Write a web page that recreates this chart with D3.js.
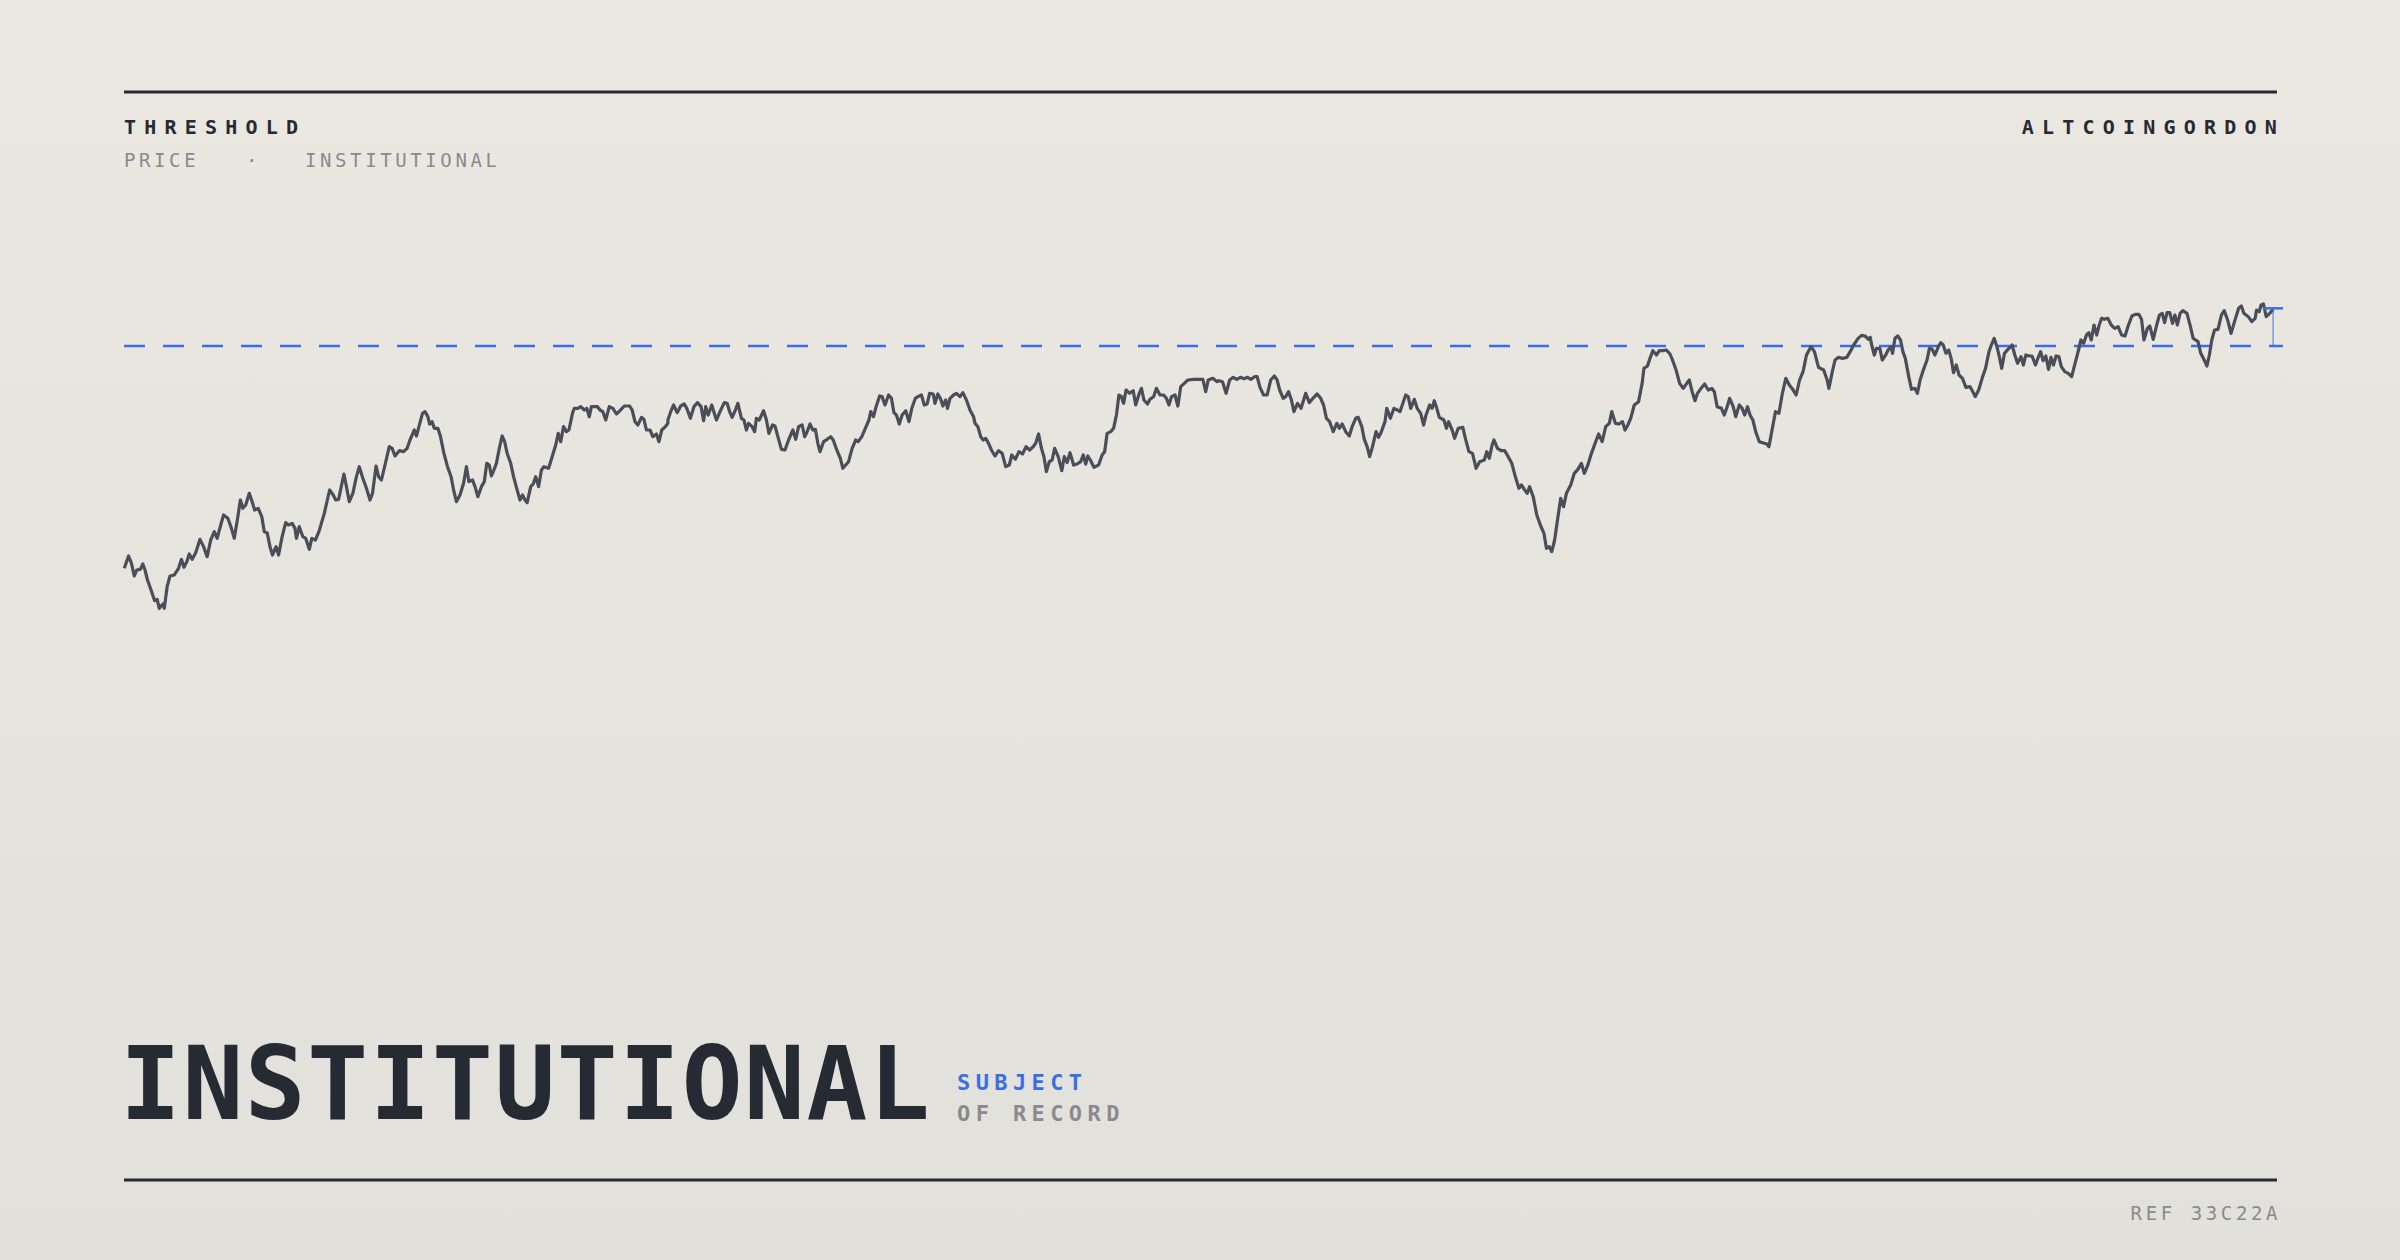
<!DOCTYPE html>
<html><head><meta charset="utf-8">
<script src="https://cdn.jsdelivr.net/npm/d3@7"></script>
<style>html,body{margin:0;padding:0;}svg{display:block;}</style>
</head><body>
<script>
// ---- DATA (readings; [sessionPosition, level-reading]) ----
const seg1 = [[40,865],[52,828],[60,850],[68,888],[75,870],[85,868],[92,852],[98,870],[105,900],[115,930],[125,962],[132,958],[138,985],[148,972],[152,985],[160,920],[168,888],[180,885],[192,865],[200,838],[207,862],[215,845],[222,822],[230,838],[240,818],[252,778],[262,800],[272,830],[282,780],[292,755],[300,775],[310,735],[318,705],[330,715],[340,745],[348,775],[358,710],[365,660],[372,685],[380,675],[390,640],[398,665],[405,690],[415,685],[425,710],[432,755],[440,758],[448,800],[455,825],[465,800],[472,825],[482,770],[492,728],[500,735],[510,730],[518,745],[522,775],[530,740],[540,770],[548,775],[558,808],[565,775],[575,780],[585,755],[600,700],[615,630],[625,645],[632,660],[640,658],[655,582],[662,620],[670,665],[680,640],[690,590],[698,560],[708,595],[718,625],[728,660],[735,640],[745,558],[752,590],[760,600],[770,555],[782,500],[790,505],[798,528],[810,512],[822,515],[832,505],[840,480],[852,450],[858,468],[865,440],[875,400],[882,395],[890,410],[895,432],[902,425],[908,445],[918,445],[925,468],[935,520],[945,560],[955,590],[962,630],[970,665],[980,645],[990,610],[998,560],[1005,605],[1015,600],[1022,620],[1030,650],[1040,620],[1048,605],[1055,550],[1062,555],[1068,588],[1075,570],[1082,550],[1090,505],[1098,468],[1105,485],[1112,520],[1122,550],[1130,590],[1140,630],[1148,660],[1155,645],[1162,660],[1168,668],[1178,620],[1185,612],[1192,590],[1200,620],[1208,570],[1215,560],[1228,565],[1238,530],[1248,495],[1255,460],[1262,485],[1270,440],[1278,455],[1285,450],[1295,400],[1300,385],[1310,385],[1318,380],[1328,390],[1335,385],[1342,410],[1348,380],[1365,380],[1372,390],[1380,395],[1388,420],[1398,380],[1408,385],[1418,402],[1428,392],[1440,378],[1455,378],[1462,390],[1470,425],[1478,435],[1488,412],[1495,418],[1502,450],[1512,450],[1520,470],[1530,462],[1537,485],[1545,450],[1555,440],[1562,430]];
const seg2 = [[22,420],[30,395],[38,375],[48,398],[58,378],[68,372],[75,385],[85,415],[95,380],[105,368],[115,380],[122,422],[128,380],[135,405],[145,375],[152,400],[158,420],[168,395],[180,368],[188,370],[195,395],[202,412],[212,388],[218,370],[228,415],[235,420],[242,450],[248,430],[258,440],[265,455],[270,415],[278,420],[290,392],[298,420],[305,460],[315,435],[322,438],[330,470],[340,508],[350,510],[360,480],[372,450],[380,478],[388,440],[398,435],[405,470],[412,455],[420,432],[428,450],[435,448],[442,490],[448,515],[458,485],[468,478],[478,470],[485,480],[495,510],[505,535],[512,565],[520,555],[528,545],[538,505],[548,480],[555,485],[565,470],[575,445],[585,420],[590,395],[598,410],[605,380],[615,348],[622,350],[630,375],[640,345],[648,355],[655,398],[662,405],[670,432],[678,405],[688,392],[697,425],[705,385],[715,355],[722,350],[732,345],[740,375],[748,372],[755,340],[765,342],[770,370],[778,342],[785,355],[792,378],[800,360],[805,385],[812,355],[822,345],[830,340],[840,350],[848,338],[858,360],[868,390],[878,410],[882,430],[890,440],[898,470],[905,480],[912,475],[920,490],[928,510],[938,528],[948,512],[958,520],[968,560],[978,555],[985,525],[995,538],[1005,515],[1015,522],[1025,500],[1035,510],[1045,500],[1052,490],[1060,462],[1068,505],[1075,530],[1082,575],[1090,545],[1098,540],[1105,505],[1115,530],[1125,572],[1132,530],[1140,548],[1148,518],[1158,555],[1168,552],[1178,545],[1185,525],[1192,552],[1198,528],[1205,540],[1215,562],[1228,555],[1238,525],[1245,515],[1252,460],[1262,455],[1270,445],[1278,405],[1285,345],[1292,350],[1298,370],[1305,330],[1315,340],[1325,332],[1332,375],[1342,340],[1348,325],[1355,360],[1365,372],[1372,358],[1382,350],[1390,325],[1400,345],[1410,345],[1418,355],[1425,375],[1432,350],[1442,345],[1450,378],[1458,320],[1468,310],[1478,300],[1495,298],[1520,298],[1528,335],[1535,300],[1548,295],[1560,305]];
const seg3 = [[25,302],[35,305],[45,340],[55,300],[65,292],[75,298],[85,292],[95,296],[105,292],[115,298],[125,290],[132,290],[140,322],[150,345],[160,345],[170,300],[180,288],[188,300],[195,330],[205,355],[212,350],[220,335],[228,360],[235,395],[245,370],[255,385],[268,340],[278,368],[288,355],[300,342],[310,355],[318,375],[326,415],[335,425],[345,455],[355,430],[362,445],[370,432],[380,455],[390,468],[398,440],[408,415],[415,412],[425,440],[432,478],[440,500],[447,530],[455,500],[465,455],[472,472],[478,460],[490,425],[495,385],[505,415],[515,385],[525,390],[532,395],[540,370],[548,345],[555,350],[562,385],[572,358],[580,385],[590,400],[598,435],[605,405],[615,375],[622,385],[628,362],[635,385],[642,412],[655,420],[662,445],[668,425],[678,450],[685,475],[695,445],[708,442],[715,475],[725,515],[735,520],[745,565],[755,545],[768,540],[775,515],[782,535],[790,495],[795,480],[805,505],[815,512],[825,512],[835,530],[845,550],[855,590],[865,625],[872,615],[880,628],[888,640],[895,620],[905,650],[915,705],[925,735],[935,760],[942,805],[950,800],[957,815],[965,780],[975,705],[982,655],[990,680],[998,640],[1010,615],[1020,580],[1030,568],[1040,550],[1048,580],[1058,555],[1068,520],[1080,485],[1088,462],[1098,485],[1108,440],[1118,430],[1125,395],[1135,430],[1145,432],[1155,425],[1162,450],[1170,435],[1178,415],[1188,375],[1200,365],[1210,310],[1215,265],[1225,258],[1232,235],[1240,212],[1250,225],[1258,212],[1268,212],[1278,210],[1288,222],[1295,240],[1305,270],[1315,310],[1325,325],[1335,310],[1342,300],[1350,335],[1358,362],[1365,340],[1375,325],[1385,312],[1395,330],[1405,325],[1412,335],[1420,380],[1432,385],[1440,405],[1448,380],[1455,355],[1465,380],[1472,410],[1482,375],[1490,385],[1497,405],[1505,380],[1512,405],[1520,420],[1528,455],[1538,485],[1552,490],[1560,492]];
const seg4 = [[20,492],[26,500],[35,450],[45,395],[55,400],[65,340],[75,295],[85,315],[95,328],[105,345],[115,300],[125,275],[135,225],[148,200],[158,215],[170,262],[185,270],[195,300],[200,325],[210,275],[218,240],[228,232],[240,235],[252,232],[262,215],[272,195],[285,175],[295,166],[305,168],[315,178],[320,172],[325,198],[332,225],[338,205],[348,205],[355,240],[365,225],[372,210],[380,200],[385,220],[392,175],[400,168],[408,180],[415,215],[422,235],[432,290],[440,328],[450,325],[457,340],[465,300],[475,268],[485,240],[492,205],[500,208],[508,225],[518,200],[525,188],[532,195],[540,220],[548,210],[555,235],[562,278],[570,255],[578,285],[588,295],[598,322],[610,320],[618,335],[625,350],[635,330],[645,295],[655,265],[665,215],[672,195],[680,175],[688,200],[695,230],[702,265],[710,220],[720,208],[732,195],[740,225],[748,250],[758,230],[765,255],[772,225],[782,228],[790,228],[800,255],[808,232],[815,215],[822,242],[830,228],[838,268],[845,232],[852,255],[860,228],[868,230],[875,260],[885,275],[895,280],[905,290],[915,250],[925,210],[932,180],[940,190],[948,165],[955,158],[962,180],[970,135],[978,165],[985,135],[992,115],[1000,118],[1010,115],[1020,135],[1030,145],[1040,140],[1050,165],[1060,168],[1070,135],[1080,108],[1090,103],[1100,103],[1108,118],[1115,180],[1125,145],[1132,138],[1142,178],[1152,135],[1160,105],[1168,100],[1175,128],[1182,98],[1190,98],[1198,130],[1205,105],[1212,135],[1220,100],[1228,92],[1240,100],[1250,140],[1258,175],[1265,180],[1272,185],[1280,220],[1290,240],[1298,258],[1305,225],[1312,180],[1320,150],[1330,148],[1340,105],[1348,92],[1358,120],[1368,160],[1378,125],[1390,85],[1398,78],[1405,100],[1418,110],[1428,125],[1438,115],[1442,90],[1450,95],[1455,75],[1462,72],[1470,110],[1480,100],[1490,88]];
// segment session offsets and session units per reading step
const segStarts = [-14, 536, 1086, 1636];
const segUnits = [2.8, 2.8, 2.8, 2.904];
const thresholdReading = 198;
const lastHighReading = 85;
const titleText = "INSTITUTIONAL";
const headerLeft = "THRESHOLD";
const headerRight = "ALTCOINGORDON";
const subLeft = ["PRICE", "·", "INSTITUTIONAL"];
const tagTop = "SUBJECT";
const tagBottom = "OF RECORD";
const refText = "REF 33C22A";

// ---- build series ----
const segs = [seg1, seg2, seg3, seg4];
const series = [];
segs.forEach((s, i) => s.forEach(([p, r]) => series.push({ day: segStarts[i] + p / segUnits[i], level: 1020 - r })));
const threshold = 1020 - thresholdReading;
const lastHigh = 1020 - lastHighReading;

const W = 2400, H = 1260;
const L = 124, R = 2277;
const svg = d3.select("body").append("svg").attr("width", W).attr("height", H);
const defs = svg.append("defs");
const g = defs.append("linearGradient").attr("id", "bg").attr("x1", 0).attr("y1", 0).attr("x2", 0).attr("y2", 1);
g.append("stop").attr("offset", "0%").attr("stop-color", "#ebe8e2");
g.append("stop").attr("offset", "100%").attr("stop-color", "#e2e0da");
svg.append("rect").attr("width", W).attr("height", H).attr("fill", "url(#bg)");

const ink = "#262a33", grey = "#8a8a8e", blue = "#3a6ee6";
const mono = "'DejaVu Sans Mono', 'Liberation Mono', monospace";

svg.append("line").attr("x1", L).attr("x2", R).attr("y1", 92).attr("y2", 92).attr("stroke", ink).attr("stroke-width", 3);
svg.append("line").attr("x1", L).attr("x2", R).attr("y1", 1180).attr("y2", 1180).attr("stroke", ink).attr("stroke-width", 3);

svg.append("text").attr("x", L).attr("y", 134).text(headerLeft).attr("font-family", mono).attr("font-weight", "bold")
  .attr("font-size", 20).attr("letter-spacing", "8.2px").attr("fill", ink);
svg.append("text").attr("x", R + 8).attr("y", 134).attr("text-anchor", "end").text(headerRight).attr("font-family", mono).attr("font-weight", "bold")
  .attr("font-size", 20).attr("letter-spacing", "8.2px").attr("fill", ink);
const subX = [124, 246, 305];
subLeft.forEach((t, i) => svg.append("text").attr("x", subX[i]).attr("y", 167).text(t).attr("font-family", mono)
  .attr("font-size", 19).attr("letter-spacing", "3.6px").attr("fill", grey));

const x = d3.scaleLinear().domain([0, 2150]).range([L, L + 2150]);
const y = d3.scaleLinear().domain([0, 1020]).range([620, 280]);

const lastDay = series[series.length - 1].day;
svg.append("line").attr("x1", L).attr("x2", x(lastDay) + 10).attr("y1", y(threshold)).attr("y2", y(threshold))
  .attr("stroke", blue).attr("stroke-width", 2.5).attr("stroke-dasharray", "21,18");

svg.append("path").datum(series).attr("fill", "none").attr("stroke", "#4a4e58").attr("stroke-width", 3.2)
  .attr("stroke-linejoin", "round")
  .attr("d", d3.line().x(d => x(d.day)).y(d => y(d.level)));

// marker
svg.append("line").attr("x1", x(lastDay)).attr("x2", x(lastDay)).attr("y1", y(threshold)).attr("y2", y(lastHigh))
  .attr("stroke", blue).attr("stroke-width", 1.2).attr("opacity", 0.8);
svg.append("line").attr("x1", x(lastDay) - 10).attr("x2", x(lastDay) + 10).attr("y1", y(lastHigh)).attr("y2", y(lastHigh))
  .attr("stroke", blue).attr("stroke-width", 2.5);

svg.append("text").attr("x", 120).attr("y", 1119).text(titleText).attr("font-family", mono).attr("font-weight", "bold")
  .attr("font-size", 101).attr("letter-spacing", "1.6px").attr("fill", ink);
svg.append("text").attr("x", 957).attr("y", 1090).text(tagTop).attr("font-family", mono).attr("font-weight", "bold")
  .attr("font-size", 22).attr("letter-spacing", "5.4px").attr("fill", blue);
svg.append("text").attr("x", 957).attr("y", 1121).text(tagBottom).attr("font-family", mono).attr("font-weight", "bold")
  .attr("font-size", 22).attr("letter-spacing", "5.4px").attr("fill", grey);
svg.append("text").attr("x", R + 4).attr("y", 1220).attr("text-anchor", "end").text(refText).attr("font-family", mono)
  .attr("font-size", 19).attr("letter-spacing", "3.6px").attr("fill", grey);
</script>
</body></html>
